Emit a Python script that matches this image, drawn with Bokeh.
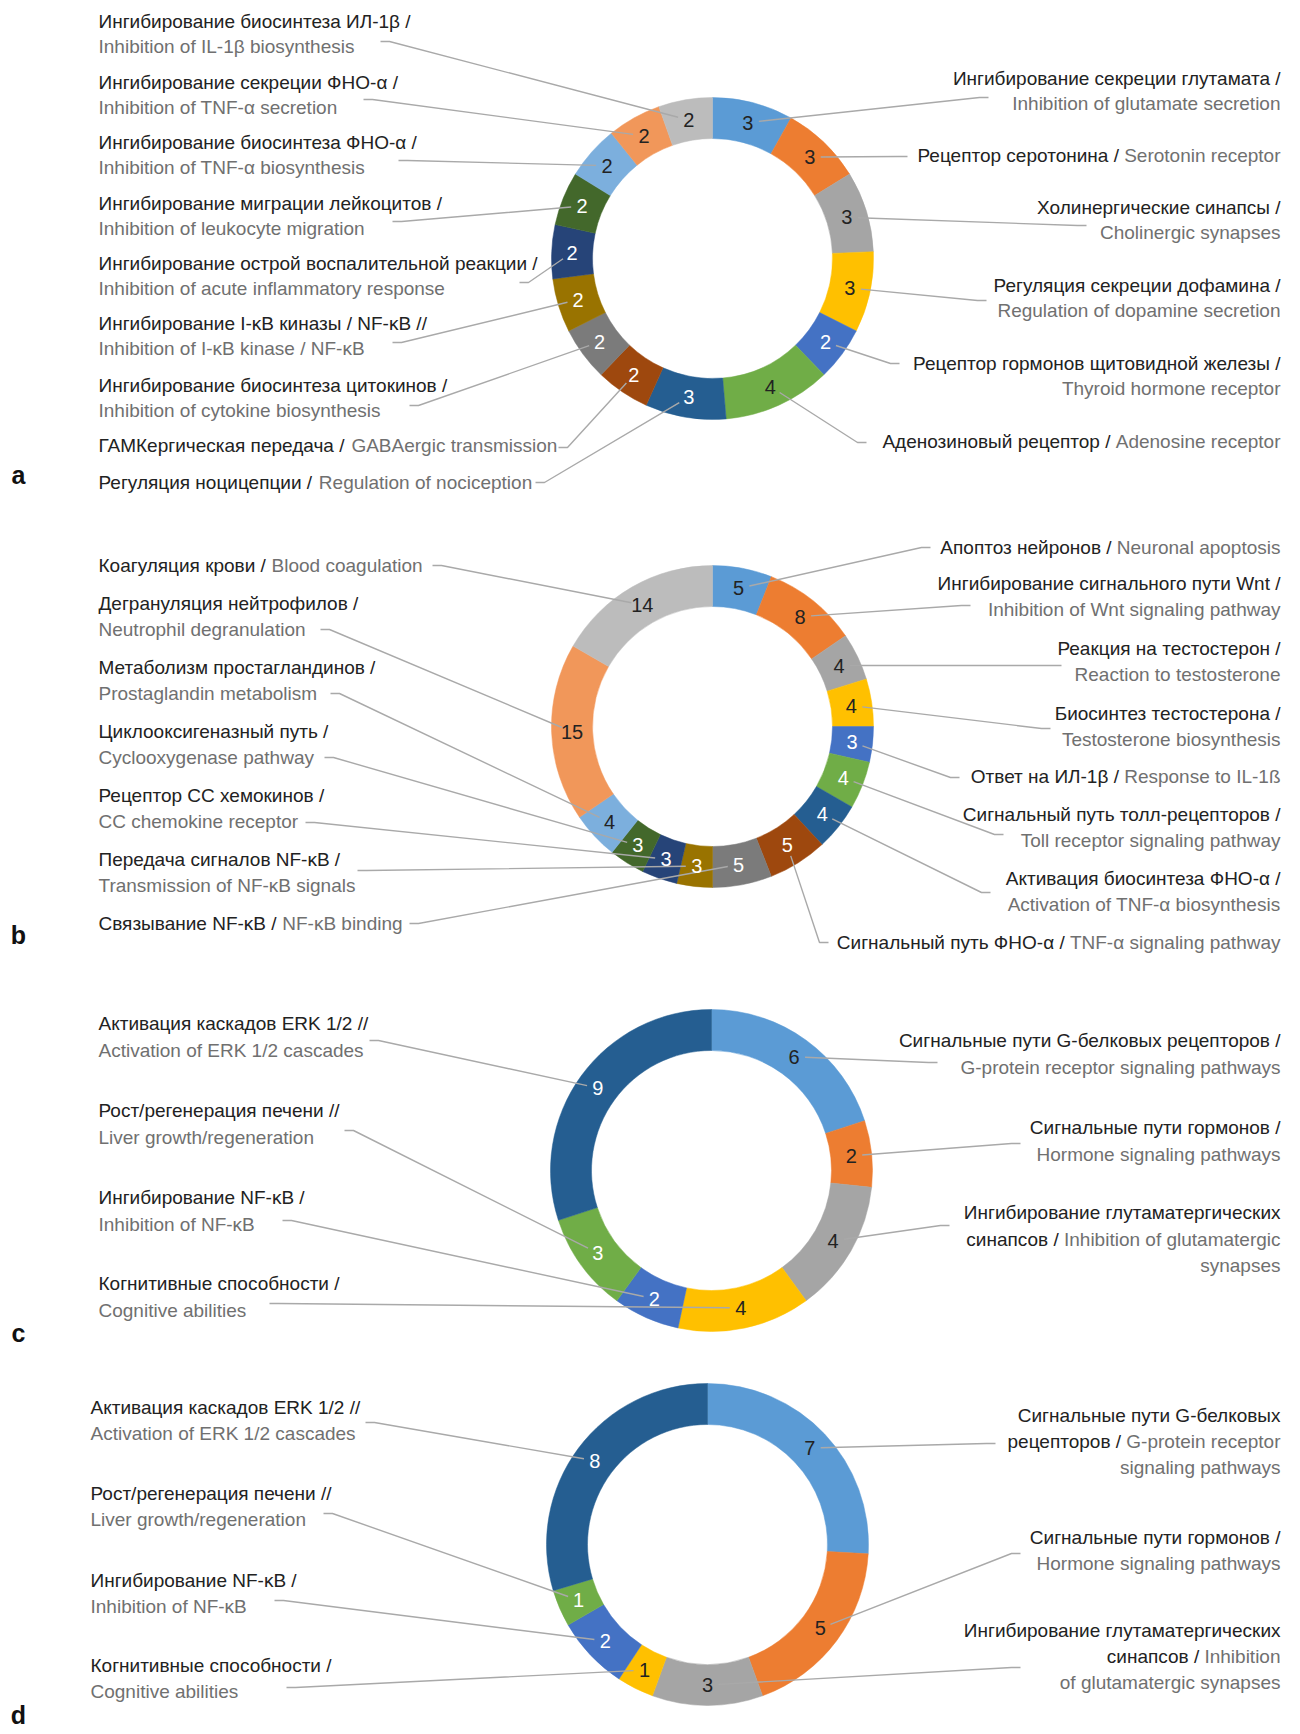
import numpy as np
from bokeh.plotting import figure
from bokeh.models import Range1d, ColumnDataSource
from bokeh.core.properties import value
from bokeh.embed import file_html
from bokeh.resources import INLINE

# ------------------------------------------------------------------ data
# segments listed clockwise from 12 o'clock
values_a = [3, 3, 3, 3, 2, 4, 3, 2, 2, 2, 2, 2, 2, 2, 2]
cat_ru_a = ["Ингибирование секреции глутамата /", "Рецептор серотонина /",
            "Холинергические синапсы /", "Регуляция секреции дофамина /",
            "Рецептор гормонов щитовидной железы /", "Аденозиновый рецептор /",
            "Регуляция ноцицепции /", "ГАМКергическая передача /",
            "Ингибирование биосинтеза цитокинов /", "Ингибирование I-κB киназы / NF-κB //",
            "Ингибирование острой воспалительной реакции /", "Ингибирование миграции лейкоцитов /",
            "Ингибирование биосинтеза ФНО-α /", "Ингибирование секреции ФНО-α /",
            "Ингибирование биосинтеза ИЛ-1β /"]
cat_en_a = ["Inhibition of glutamate secretion", "Serotonin receptor",
            "Cholinergic synapses", "Regulation of dopamine secretion",
            "Thyroid hormone receptor", "Adenosine receptor",
            "Regulation of nociception", "GABAergic transmission",
            "Inhibition of cytokine biosynthesis", "Inhibition of I-κB kinase / NF-κB",
            "Inhibition of acute inflammatory response", "Inhibition of leukocyte migration",
            "Inhibition of TNF-α biosynthesis", "Inhibition of TNF-α secretion",
            "Inhibition of IL-1β biosynthesis"]

values_b = [5, 8, 4, 4, 3, 4, 4, 5, 5, 3, 3, 3, 4, 15, 14]
cat_ru_b = ["Апоптоз нейронов /", "Ингибирование сигнального пути Wnt /",
            "Реакция на тестостерон /", "Биосинтез тестостерона /",
            "Ответ на ИЛ-1β /", "Сигнальный путь толл-рецепторов /",
            "Активация биосинтеза ФНО-α /", "Сигнальный путь ФНО-α /",
            "Связывание NF-κB /", "Передача сигналов NF-κB /",
            "Рецептор СС хемокинов /", "Циклооксигеназный путь /",
            "Метаболизм простагландинов /", "Дегрануляция нейтрофилов /",
            "Коагуляция крови /"]
cat_en_b = ["Neuronal apoptosis", "Inhibition of Wnt signaling pathway",
            "Reaction to testosterone", "Testosterone biosynthesis",
            "Response to IL-1ß", "Toll receptor signaling pathway",
            "Activation of TNF-α biosynthesis", "TNF-α signaling pathway",
            "NF-κB binding", "Transmission of NF-κB signals",
            "CC chemokine receptor", "Cyclooxygenase pathway",
            "Prostaglandin metabolism", "Neutrophil degranulation",
            "Blood coagulation"]

values_c = [6, 2, 4, 4, 2, 3, 9]
values_d = [7, 5, 3, 1, 2, 1, 8]
cat_ru_cd = ["Сигнальные пути G-белковых рецепторов /", "Сигнальные пути гормонов /",
             "Ингибирование глутаматергических синапсов /", "Когнитивные способности /",
             "Ингибирование NF-κB /", "Рост/регенерация печени //",
             "Активация каскадов ERK 1/2 //"]
cat_en_cd = ["G-protein receptor signaling pathways", "Hormone signaling pathways",
             "Inhibition of glutamatergic synapses", "Cognitive abilities",
             "Inhibition of NF-κB", "Liver growth/regeneration",
             "Activation of ERK 1/2 cascades"]

panel_letters = ["a", "b", "c", "d"]

# ------------------------------------------------------------------ styles
PALETTE = ["#5B9BD5", "#ED7D31", "#A5A5A5", "#FFC000", "#4472C4", "#70AD47",
           "#255E91", "#9E480E", "#7B7B7B", "#997300", "#264478", "#43682B",
           "#7CAFDD", "#F1975A", "#BCBCBC"]
DARK = "#222222"
GRAY = "#707070"
WH = "#FFFFFF"
LEADER = "#A9A9A9"
FONT = "Liberation Sans"
FS = 19
R_OUT, R_IN = 161, 120

num_colors = {
    "a": [DARK, DARK, DARK, DARK, WH, DARK, WH, WH, WH, WH, WH, WH, DARK, DARK, DARK],
    "b": [DARK, DARK, DARK, DARK, WH, WH, WH, WH, WH, WH, WH, WH, DARK, DARK, DARK],
    "c": [DARK, DARK, DARK, DARK, WH, WH, WH],
    "d": [DARK, DARK, DARK, DARK, WH, WH, WH],
}

S2 = [(None, 0), (0, None)]   # russian line, english line
S1 = [(None, None)]           # both on one line

# label layout: (side, first-line y, line split, leader anchor x, anchor y)
layout = {
    "a": dict(center=(712, 258), left=98, pitch=25, labels=[
        ("R", 78, S2, 988, 97), ("R", 155, S1, 907, 156), ("R", 207, S2, 1086, 225),
        ("R", 285, S2, 986, 300), ("R", 363, S2, 899, 363), ("R", 441, S1, 866, 442),
        ("L", 482, S1, 535, 482), ("L", 445, S1, 558, 447), ("L", 385, S2, 409, 405),
        ("L", 323, S2, 392, 342), ("L", 263, S2, 519, 282), ("L", 203, S2, 392, 221),
        ("L", 142, S2, 398, 160), ("L", 82, S2, 363, 99), ("L", 21, S2, 380, 41)]),
    "b": dict(center=(712, 726), left=98, pitch=26, labels=[
        ("R", 547, S1, 930, 547), ("R", 583, S2, 970, 605), ("R", 648, S2, 1061, 665),
        ("R", 713, S2, 1050, 728), ("R", 776, S1, 959, 777), ("R", 814, S2, 1003, 834),
        ("R", 878, S2, 990, 892), ("R", 942, S1, 828, 942), ("L", 923, S1, 409, 923),
        ("L", 859, S2, 357, 870), ("L", 795, S2, 305, 822), ("L", 731, S2, 324, 757),
        ("L", 667, S2, 330, 693), ("L", 603, S2, 320, 629), ("L", 565, S1, 432, 565)]),
    "c": dict(center=(711, 1170), left=98, pitch=26.5, labels=[
        ("R", 1040, S2, 937, 1062), ("R", 1127, S2, 1020, 1143),
        ("R", 1212, [(2, 0), (None, 3), (0, None)], 949, 1225),
        ("L", 1283, S2, 269, 1303), ("L", 1197, S2, 282, 1220),
        ("L", 1110, S2, 344, 1130), ("L", 1023, S2, 369, 1040)]),
    "d": dict(center=(707, 1544), left=90, pitch=26, labels=[
        ("R", 1415, [(3, 0), (None, 2), (0, None)], 995, 1443), ("R", 1537, S2, 1020, 1553),
        ("R", 1630, [(2, 0), (None, 1), (0, None)], 1020, 1667),
        ("L", 1665, S2, 286, 1687), ("L", 1580, S2, 274, 1600),
        ("L", 1493, S2, 323, 1513), ("L", 1407, S2, 365, 1422)]),
}
letter_pos = {"a": (18, 474), "b": (18, 934), "c": (18, 1332), "d": (18, 1714)}
RIGHT_EDGE = 1280

# Arial / Liberation Sans advance widths (per 1000 em)
AW = {' ': 278, '/': 278, '-': 333, '.': 278, ',': 278, '(': 333, ')': 333}
for ch in "0123456789":
    AW[ch] = 556
AW.update(dict(A=667, B=667, C=722, D=722, E=667, F=611, G=778, H=722, I=278, J=500,
               K=667, L=556, M=833, N=722, O=778, P=667, Q=778, R=722, S=667, T=611,
               U=722, V=667, W=944, X=667, Y=667, Z=611))
AW.update(dict(a=556, b=556, c=500, d=556, e=556, f=278, g=556, h=556, i=222, j=222,
               k=500, l=222, m=833, n=556, o=556, p=556, q=556, r=333, s=500, t=278,
               u=556, v=500, w=722, x=500, y=500, z=500))
AW.update({'А': 667, 'Б': 656, 'В': 667, 'Г': 542, 'Д': 677, 'Е': 667, 'Ж': 923, 'З': 604,
           'И': 719, 'Й': 719, 'К': 583, 'Л': 656, 'М': 833, 'Н': 722, 'О': 778, 'П': 719,
           'Р': 667, 'С': 722, 'Т': 611, 'У': 635, 'Ф': 760, 'Х': 667, 'Ц': 740, 'Ч': 667,
           'Ш': 917, 'Щ': 938, 'Ъ': 792, 'Ы': 885, 'Ь': 656, 'Э': 719, 'Ю': 1010, 'Я': 722,
           'а': 556, 'б': 573, 'в': 531, 'г': 365, 'д': 583, 'е': 556, 'ж': 669, 'з': 458,
           'и': 558, 'й': 558, 'к': 438, 'л': 583, 'м': 688, 'н': 552, 'о': 556, 'п': 542,
           'р': 556, 'с': 500, 'т': 458, 'у': 500, 'ф': 823, 'х': 500, 'ц': 573, 'ч': 521,
           'ш': 802, 'щ': 823, 'ъ': 625, 'ы': 719, 'ь': 521, 'э': 510, 'ю': 750, 'я': 542,
           'α': 578, 'β': 575, 'κ': 500, 'ß': 611})


def text_w(s):
    return sum(AW.get(ch, 556) for ch in s) * FS / 1000.0


def Y(y):  # reference pixel row -> data y
    return 1734 - y


# ------------------------------------------------------------------ figure
p = figure(width=1292, height=1730, x_range=Range1d(0, 1292), y_range=Range1d(4, 1734),
           output_backend="svg", toolbar_location=None, x_axis_type=None, y_axis_type=None,
           min_border=0)
p.outline_line_color = None
p.background_fill_color = "white"

panels = [("a", values_a, cat_ru_a, cat_en_a), ("b", values_b, cat_ru_b, cat_en_b),
          ("c", values_c, cat_ru_cd, cat_en_cd), ("d", values_d, cat_ru_cd, cat_en_cd)]

txt = {k: dict(x=[], y=[], t=[]) for k in ("dl", "gl", "dr", "gr")}
lead_xs, lead_ys = [], []

for key, vals, ru_list, en_list in panels:
    lay = layout[key]
    cx, cy = lay["center"]
    v = np.array(vals, dtype=float)
    tot = v.sum()
    cum = np.cumsum(v)
    th1 = (cum - v) / tot * 2 * np.pi
    th2 = cum / tot * 2 * np.pi
    src = ColumnDataSource(dict(
        x=[cx] * len(v), y=[Y(cy)] * len(v),
        start=list(np.pi / 2 - th2), end=list(np.pi / 2 - th1),
        color=PALETTE[:len(v)]))
    p.annular_wedge(x="x", y="y", inner_radius=R_IN, outer_radius=R_OUT,
                    start_angle="start", end_angle="end", direction="anticlock",
                    fill_color="color", line_color="color", line_width=0.5, source=src)

    thm = (th1 + th2) / 2
    rm = (R_IN + R_OUT) / 2
    lx = cx + rm * np.sin(thm)
    ly = cy - rm * np.cos(thm)

    for i, (side, y0, spec, ax, ay) in enumerate(lay["labels"]):
        rw = ru_list[i].split(" ")
        ew = en_list[i].split(" ")
        ri = ei = 0
        for k, (nr, ne) in enumerate(spec):
            nr = len(rw) - ri if nr is None else nr
            ne = len(ew) - ei if ne is None else ne
            rt = " ".join(rw[ri:ri + nr])
            et = " ".join(ew[ei:ei + ne])
            ri += nr
            ei += ne
            yy = Y(y0 + k * lay["pitch"])
            if side == "L":
                x0 = lay["left"]
                if rt:
                    txt["dl"]["x"].append(x0); txt["dl"]["y"].append(yy); txt["dl"]["t"].append(rt)
                if et:
                    xe = x0 + (text_w(rt + " ") if rt else 0)
                    txt["gl"]["x"].append(xe); txt["gl"]["y"].append(yy); txt["gl"]["t"].append(et)
            else:
                if et:
                    txt["gr"]["x"].append(RIGHT_EDGE); txt["gr"]["y"].append(yy); txt["gr"]["t"].append(et)
                if rt:
                    xr = RIGHT_EDGE - (text_w(" " + et) if et else 0)
                    txt["dr"]["x"].append(xr); txt["dr"]["y"].append(yy); txt["dr"]["t"].append(rt)
        # leader line: anchor -> shoulder -> near the value label
        sx = ax + 9 if side == "L" else ax - 9
        dx, dy = sx - lx[i], ay - ly[i]
        d = np.hypot(dx, dy)
        tx, ty = lx[i] + 11 * dx / d, ly[i] + 11 * dy / d
        lead_xs.append([ax, sx, tx])
        lead_ys.append([Y(ay), Y(ay), Y(ty)])

    lay["nums"] = (list(lx), [Y(q) for q in ly], [str(int(q)) for q in vals], num_colors[key])

p.multi_line(xs=lead_xs, ys=lead_ys, line_color=LEADER, line_width=1.4)

for key in ("a", "b", "c", "d"):
    nx, ny, nt, nc = layout[key]["nums"]
    p.text(x=nx, y=ny, text=nt, text_color=nc, text_font=value(FONT), text_font_size="20px",
           text_align="center", text_baseline="middle")

for k, col, align in (("dl", DARK, "left"), ("gl", GRAY, "left"),
                      ("dr", DARK, "right"), ("gr", GRAY, "right")):
    p.text(x=txt[k]["x"], y=txt[k]["y"], text=txt[k]["t"], text_color=col,
           text_font=value(FONT), text_font_size=f"{FS}px", text_align=align,
           text_baseline="middle")

p.text(x=[letter_pos[k][0] for k in panel_letters], y=[Y(letter_pos[k][1]) for k in panel_letters],
       text=panel_letters, text_color="#111111", text_font=value(FONT), text_font_size="25px",
       text_font_style="bold", text_align="center", text_baseline="middle")

open("out.html", "w").write(file_html(p, INLINE))
